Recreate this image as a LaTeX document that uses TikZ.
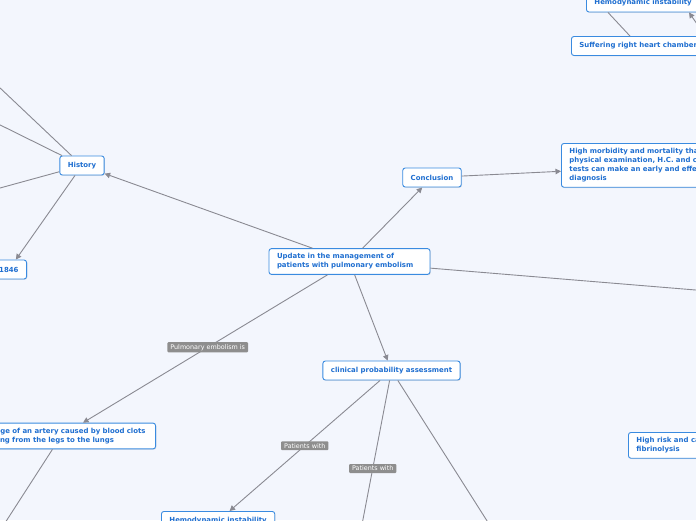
\documentclass[tikz,border=0pt]{standalone}
\usepackage{fontspec}
\setmainfont{DejaVu Sans}
\usetikzlibrary{arrows.meta,shadows}
\definecolor{bgblue}{HTML}{F3F6FD}
\definecolor{nodeblue}{HTML}{3A8BE0}
\definecolor{textblue}{HTML}{1E6ED0}
\definecolor{linegray}{HTML}{8A8A92}
\definecolor{labelgray}{HTML}{8E8E8E}
\tikzset{
  topic/.style = {draw = nodeblue, fill = white, line width = 0.9pt, rounded corners = 2.5pt,
    text = textblue, font = \fontsize{6.95}{9}\selectfont\bfseries, align = left,
    inner xsep = 8pt, inner ysep = 5pt, minimum height = 19pt,
    drop shadow = {opacity = 0.2, shadow xshift = 0.8pt, shadow yshift = -0.8pt}},
  tag/.style = {fill = labelgray, text = white, rounded corners = 1pt,
    font = \fontsize{6.4}{8}\selectfont, inner xsep = 3pt, inner ysep = 2pt},
  link/.style = {draw = linegray, line width = 0.9pt},
  arr/.style = {link, -{Triangle[length = 5.5pt, width = 5.5pt]}}
}
\begin{document}
\begin{tikzpicture} [x = 1pt, y = -1pt]
	\fill [bgblue] (0,0) rectangle (696,520);
	\useasboundingbox (0,0) rectangle (696,520);
	\node [topic, text width = 145pt] (update) at (349.5,261.5) {Update in the management of\\patients with pulmonary embolism};
	\node [topic] (history) at (82,165.5) {History};
	\node [topic, anchor = east] (year) at (27,269.5) {1846};
	\node [topic] (conclusion) at (432,177.5) {Conclusion};
	\node [topic, anchor = north west, text width = 230pt] (morbidity) at (561,143) {High morbidity and mortality that a good\\physical examination, H.C. and complementary\\tests can make an early and effective\\diagnosis};
	\node [topic, anchor = west] (hemotop) at (586,2.5) {Hemodynamic instability};
	\node [topic, anchor = west] (suffer) at (571,46) {Suffering right heart chambers};
	\node [topic] (clinical) at (391.5,370.5) {clinical probability assessment};
	\node [topic, anchor = east, text width = 173pt] (blockage) at (156,436) {Blockage of an artery caused by blood clots\\traveling from the legs to the lungs};
	\node [topic, anchor = north west] (hemobottom) at (161,511) {Hemodynamic instability};
	\node [topic, anchor = north west] (highrisk) at (628,432) {High risk and candidates for\\fibrinolysis};
	\coordinate (h1) at (-20,69);
	\coordinate (h2) at (-20,115);
	\coordinate (h3) at (-20,193.5);
	\coordinate (b1) at (-6,540);
	\coordinate (u1) at (720,292);
	\coordinate (c1) at (360,535);
	\coordinate (c2) at (496,535);
	\coordinate (s1) at (704,34);
	\draw [link] (h1) -- (history);
	\draw [link] (h2) -- (history);
	\draw [link] (h3) -- (history);
	\draw [arr] (history) -- (year);
	\draw [arr] (update) -- (history);
	\draw [arr] (update) -- (conclusion);
	\draw [arr] (conclusion) -- (morbidity);
	\draw [link] (update) -- (u1);
	\draw [arr] (update) -- node [tag, pos = 0.49] {Pulmonary embolism is} (blockage);
	\draw [link] (blockage) -- (b1);
	\draw [arr] (update) -- (clinical);
	\draw [arr] (clinical) -- node [tag, pos = 0.5] {Patients with} (hemobottom);
	\draw [link] (clinical) -- node [tag, pos = 0.57] {Patients with} (c1);
	\draw [link] (clinical) -- (c2);
	\draw [link] ([xshift = 59pt]suffer.north west) -- ([xshift = 22pt]hemotop.south west);
	\draw [arr] (s1) -- ([xshift = 103pt]hemotop.south west);
\end{tikzpicture}
\end{document}
